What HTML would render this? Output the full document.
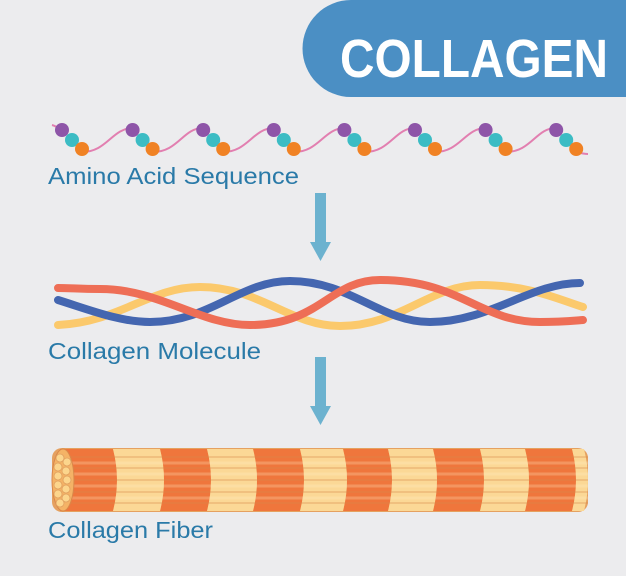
<!DOCTYPE html>
<html><head><style>body{margin:0;background:#ececee}svg{display:block}</style></head><body>
<svg width="626" height="576" viewBox="0 0 626 576" xmlns="http://www.w3.org/2000/svg">
<rect width="626" height="576" fill="#ececee"/>
<path d="M351 0 H626 V97 H351 A48.5 48.5 0 0 1 351 0 Z" fill="#4b8fc4"/>
<text x="340" y="77" font-family="Liberation Sans, sans-serif" font-weight="bold" font-size="54" fill="#fff" textLength="268" lengthAdjust="spacingAndGlyphs">COLLAGEN</text>
<g fill="none" stroke="#e27fb0" stroke-width="2">
<path d="M52 125 C56 126 58 128 62 130"/>
<path d="M82 152 C107 152 112 128 133 128 M153 152 C178 152 183 128 203 128 M223 152 C248 152 253 128 274 128 M294 152 C319 152 324 128 345 128 M365 152 C390 152 395 128 415 128 M435 152 C460 152 465 128 486 128 M506 152 C531 152 536 128 556 128 M576 152 C580 153 584 154 588 154"/>
</g>
<g id="b">
<circle cx="62" cy="130" r="7" fill="#8e55a8"/><circle cx="72" cy="140" r="7" fill="#3cbcc4"/><circle cx="82" cy="149" r="7" fill="#f08224"/>
</g>
<use href="#b" x="70.6"/><use href="#b" x="141.2"/><use href="#b" x="211.8"/><use href="#b" x="282.4"/><use href="#b" x="353"/><use href="#b" x="423.6"/><use href="#b" x="494.2"/>
<g font-family="Liberation Sans, sans-serif" font-size="23" fill="#2a7aa8">
<text x="48" y="184" textLength="251" lengthAdjust="spacingAndGlyphs">Amino Acid Sequence</text>
<text x="48" y="359" textLength="213" lengthAdjust="spacingAndGlyphs">Collagen Molecule</text>
<text x="48" y="538" textLength="165" lengthAdjust="spacingAndGlyphs">Collagen Fiber</text>
</g>
<g fill="#6cb2cf">
<rect x="315" y="193" width="11" height="50"/><path d="M310 242 H331 L320.5 261 Z"/>
<rect x="315" y="357" width="11" height="50"/><path d="M310 406 H331 L320.5 425 Z"/>
</g>
<g fill="none" stroke-width="8" stroke-linecap="round">
<path d="M58 325 C120 322 150 287 200 287 C260 287 290 326 340 326 C400 326 430 285 480 285 C530 285 560 300 583 307" stroke="#fbc96c"/>
<path d="M58 300 C90 310 120 322 150 322 C210 322 240 281 290 281 C350 281 380 322 430 322 C490 322 530 283 580 283" stroke="#4466b0"/>
<path d="M58 288 C70 288 80 289 100 289 C160 289 200 325 250 325 C320 325 330 280 380 280 C460 280 480 322 540 322 C560 322 570 321 583 320" stroke="#ee6e56"/>
</g>
<rect x="52" y="448" width="536" height="64" rx="10" fill="#e5a160"/>
<g fill="#ef763c">
<path d="M60 449 H113 Q121 480 113 511 H60 Z"/>
<path d="M160 449 H207 Q215 480 207 511 H160 Q168 480 160 449 Z"/>
<path d="M253 449 H300 Q308 480 300 511 H253 Q261 480 253 449 Z"/>
<path d="M343 449 H388 Q396 480 388 511 H343 Q351 480 343 449 Z"/>
<path d="M433 449 H480 Q488 480 480 511 H433 Q441 480 433 449 Z"/>
<path d="M525 449 H572 Q580 480 572 511 H525 Q533 480 525 449 Z"/>
</g>
<g fill="#fbd896">
<path d="M113 449 H160 Q168 480 160 511 H113 Q121 480 113 449 Z"/>
<path d="M207 449 H253 Q261 480 253 511 H207 Q215 480 207 449 Z"/>
<path d="M300 449 H343 Q351 480 343 511 H300 Q308 480 300 449 Z"/>
<path d="M388 449 H433 Q441 480 433 511 H388 Q396 480 388 449 Z"/>
<path d="M480 449 H525 Q533 480 525 511 H480 Q488 480 480 449 Z"/>
<path d="M572 449 H584 Q592 480 584 511 H572 Q580 480 572 449 Z"/>
</g>
<g stroke="#fff2cc" stroke-width="3" opacity="0.25">
<line x1="60" y1="463" x2="588" y2="463"/><line x1="60" y1="474" x2="588" y2="474"/><line x1="60" y1="486" x2="588" y2="486"/><line x1="60" y1="498" x2="588" y2="498"/>
</g>
<g stroke="#d9884a" stroke-width="1" opacity="0.6">
<line x1="60" y1="457" x2="588" y2="457"/><line x1="60" y1="468" x2="588" y2="468"/><line x1="60" y1="480" x2="588" y2="480"/><line x1="60" y1="492" x2="588" y2="492"/><line x1="60" y1="503" x2="588" y2="503"/>
</g>
<ellipse cx="63" cy="480" rx="11" ry="31" fill="#f4b366" stroke="#d9884a"/>
<g fill="#fcd58c" stroke="#e0a060" stroke-width="0.8">
<circle cx="60" cy="458" r="4"/><circle cx="67" cy="462" r="4"/><circle cx="58" cy="467" r="4"/><circle cx="66" cy="471" r="4"/><circle cx="58" cy="476" r="4"/><circle cx="67" cy="480" r="4"/><circle cx="58" cy="485" r="4"/><circle cx="66" cy="489" r="4"/><circle cx="58" cy="494" r="4"/><circle cx="66" cy="498" r="4"/><circle cx="60" cy="503" r="4"/>
</g>
</svg>
</body></html>
